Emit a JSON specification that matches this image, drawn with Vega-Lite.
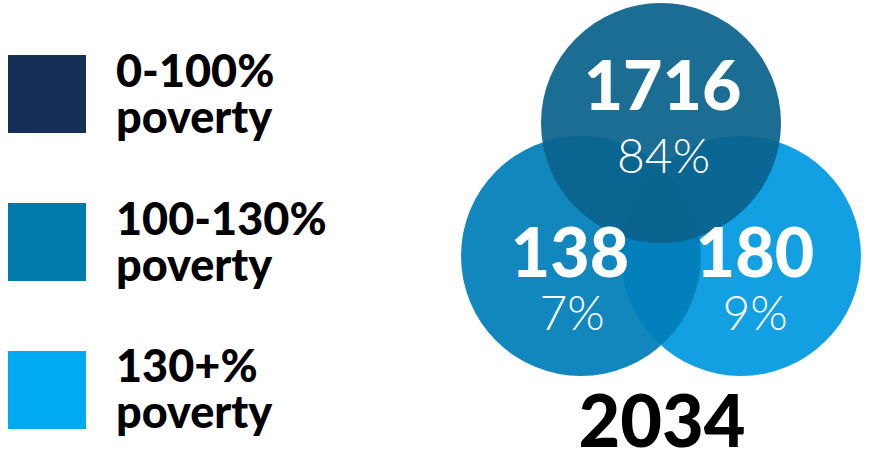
{
  "$schema": "https://vega.github.io/schema/vega-lite/v6.json",
  "width": 873,
  "height": 461,
  "padding": 0,
  "autosize": {"type": "none"},
  "background": "white",
  "config": {"view": {"stroke": null}, "font": "Lato"},
  "data": {
    "values": [
      {"key": "0-100%", "label": "0-100%\npoverty", "count": "1716", "share": "84%"},
      {"key": "100-130%", "label": "100-130%\npoverty", "count": "138", "share": "7%"},
      {"key": "130+%", "label": "130+%\npoverty", "count": "180", "share": "9%"}
    ]
  },
  "transform": [
    {"calculate": "datum.key === '0-100%' ? 'upper' : 'lower'", "as": "tier"}
  ],
  "resolve": {"scale": {"x": "independent", "y": "independent", "color": "independent"}},
  "layer": [
    {
      "mark": {"type": "square", "size": 6084, "opacity": 1, "strokeWidth": 0},
      "encoding": {
        "x": {"field": "key", "type": "nominal", "axis": null, "scale": {"type": "point", "domain": ["0-100%", "100-130%", "130+%"], "range": [47, 47], "padding": 0}},
        "y": {"field": "key", "type": "nominal", "axis": null, "scale": {"type": "point", "domain": ["0-100%", "100-130%", "130+%"], "range": [94, 390], "padding": 0}},
        "color": {"field": "key", "type": "nominal", "legend": null, "scale": {"domain": ["0-100%", "100-130%", "130+%"], "range": ["#162f56", "#0079ad", "#00aaf2"]}}
      }
    },
    {
      "mark": {"type": "text", "align": "left", "baseline": "alphabetic", "fontSize": 45, "fontWeight": 900, "lineHeight": 46, "lineBreak": "\n", "color": "#000000"},
      "encoding": {
        "x": {"field": "key", "type": "nominal", "axis": null, "scale": {"type": "point", "domain": ["0-100%", "100-130%", "130+%"], "range": [116, 116], "padding": 0}},
        "y": {"field": "key", "type": "nominal", "axis": null, "scale": {"type": "point", "domain": ["0-100%", "100-130%", "130+%"], "range": [87, 382], "padding": 0}},
        "text": {"field": "label"}
      }
    },
    {
      "mark": {"type": "circle", "size": 57600, "opacity": 0.93, "strokeWidth": 0},
      "encoding": {
        "x": {"field": "key", "type": "nominal", "axis": null, "scale": {"type": "point", "domain": ["100-130%", "0-100%", "130+%"], "range": [581, 741], "padding": 0}},
        "y": {"field": "tier", "type": "nominal", "axis": null, "scale": {"type": "point", "domain": ["upper", "lower"], "range": [123, 256], "padding": 0}},
        "color": {"field": "key", "type": "nominal", "legend": null, "scale": {"domain": ["0-100%", "100-130%", "130+%"], "range": ["#0a628c", "#007eb8", "#0099e0"]}},
        "order": {"field": "key", "sort": "descending"}
      }
    },
    {
      "mark": {"type": "text", "align": "center", "baseline": "alphabetic", "fontSize": 68, "fontWeight": 900, "color": "#ffffff"},
      "encoding": {
        "x": {"field": "key", "type": "nominal", "axis": null, "scale": {"type": "point", "domain": ["100-130%", "0-100%", "130+%"], "range": [570, 755], "padding": 0}},
        "y": {"field": "tier", "type": "nominal", "axis": null, "scale": {"type": "point", "domain": ["upper", "lower"], "range": [110, 277], "padding": 0}},
        "text": {"field": "count"}
      }
    },
    {
      "mark": {"type": "text", "align": "center", "baseline": "alphabetic", "fontSize": 48, "fontWeight": 300, "color": "#ffffff"},
      "encoding": {
        "x": {"field": "key", "type": "nominal", "axis": null, "scale": {"type": "point", "domain": ["100-130%", "0-100%", "130+%"], "range": [572, 755], "padding": 0}},
        "y": {"field": "tier", "type": "nominal", "axis": null, "scale": {"type": "point", "domain": ["upper", "lower"], "range": [173, 330], "padding": 0}},
        "text": {"field": "share"}
      }
    },
    {
      "data": {"values": [{"year": "2034"}]},
      "mark": {"type": "text", "align": "center", "baseline": "alphabetic", "fontSize": 72, "fontWeight": 900, "color": "#000000"},
      "encoding": {
        "x": {"field": "year", "type": "nominal", "axis": null, "scale": {"type": "point", "range": [662, 662], "padding": 0}},
        "y": {"field": "year", "type": "nominal", "axis": null, "scale": {"type": "point", "range": [447, 447], "padding": 0}},
        "text": {"field": "year"}
      }
    }
  ]
}
